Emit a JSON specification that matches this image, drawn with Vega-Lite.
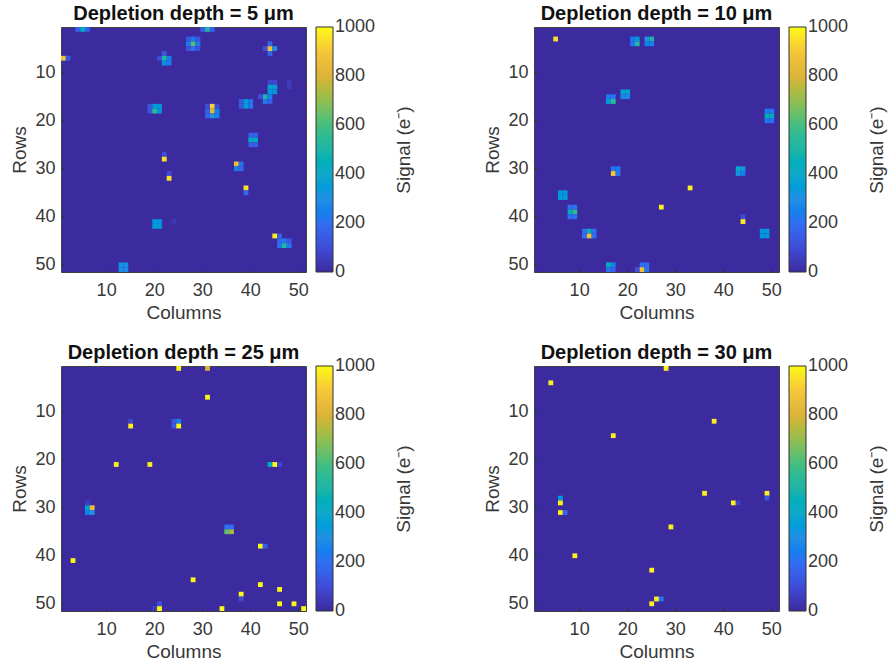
{
"$schema":"https://vega.github.io/schema/vega-lite/v6.json",
"background":"white",
"padding":{"left":10,"top":3,"right":0,"bottom":0},
"config":{
 "font":"Liberation Sans",
 "view":{"fill":"#3B2B9E","stroke":"#404040","strokeWidth":1},
 "title":{"fontSize":20,"fontWeight":"bold","color":"#111111","offset":3,"anchor":"middle"},
 "axis":{"grid":false,"domain":false,"tickSize":-3,"tickColor":"#303030","labelFontSize":18,"labelColor":"#383838","titleFontSize":19,"titleFontWeight":"normal","titleColor":"#383838","labelAngle":0},
 "axisX":{"labelPadding":12,"titlePadding":4},
 "axisY":{"labelPadding":9,"titlePadding":5},
 "legend":{"gradientLength":245,"gradientThickness":17,"offset":10,"labelFontSize":18,"labelColor":"#383838","labelOffset":9,"titleFontSize":19,"titleFontWeight":"normal","titleColor":"#383838","gradientStrokeColor":"#303030","gradientStrokeWidth":1,"titleOrient":"right","titlePadding":39}
},
"datasets":{
"p1":[{"c":4,"r":1,"v":150},{"c":5,"r":1,"v":420},{"c":6,"r":1,"v":150},{"c":30,"r":1,"v":150},{"c":31,"r":1,"v":500},{"c":32,"r":1,"v":150},
{"c":27,"r":3,"v":130},{"c":28,"r":3,"v":230},{"c":29,"r":3,"v":130},{"c":27,"r":4,"v":230},{"c":28,"r":4,"v":620},{"c":29,"r":4,"v":230},{"c":27,"r":5,"v":120},{"c":28,"r":5,"v":200},{"c":29,"r":5,"v":120},
{"c":44,"r":4,"v":170},{"c":43,"r":5,"v":110},{"c":44,"r":5,"v":860},{"c":45,"r":5,"v":300},{"c":44,"r":6,"v":170},
{"c":1,"r":7,"v":880},{"c":2,"r":7,"v":130},
{"c":22,"r":6,"v":130},{"c":21,"r":7,"v":100},{"c":22,"r":7,"v":500},{"c":23,"r":7,"v":260},{"c":22,"r":8,"v":330},{"c":23,"r":8,"v":220},
{"c":44,"r":12,"v":80},{"c":45,"r":12,"v":80},{"c":44,"r":13,"v":380},{"c":45,"r":13,"v":380},{"c":44,"r":14,"v":330},{"c":45,"r":14,"v":330},{"c":48,"r":12,"v":50},{"c":48,"r":13,"v":50},
{"c":43,"r":15,"v":520},{"c":44,"r":15,"v":250},{"c":43,"r":16,"v":240},{"c":44,"r":16,"v":150},{"c":42,"r":15,"v":100},
{"c":19,"r":17,"v":130},{"c":20,"r":17,"v":350},{"c":21,"r":17,"v":340},{"c":19,"r":18,"v":130},{"c":20,"r":18,"v":550},{"c":21,"r":18,"v":320},
{"c":31,"r":17,"v":100},{"c":32,"r":17,"v":920},{"c":33,"r":17,"v":100},{"c":31,"r":18,"v":150},{"c":32,"r":18,"v":820},{"c":33,"r":18,"v":260},{"c":31,"r":19,"v":170},{"c":32,"r":19,"v":300},{"c":33,"r":19,"v":260},
{"c":38,"r":16,"v":130},{"c":39,"r":16,"v":360},{"c":40,"r":16,"v":220},{"c":38,"r":17,"v":130},{"c":39,"r":17,"v":360},{"c":40,"r":17,"v":220},
{"c":40,"r":23,"v":150},{"c":41,"r":23,"v":150},{"c":40,"r":24,"v":420},{"c":41,"r":24,"v":420},{"c":40,"r":25,"v":150},{"c":41,"r":25,"v":150},
{"c":22,"r":27,"v":100},{"c":22,"r":28,"v":950},{"c":23,"r":31,"v":100},{"c":23,"r":32,"v":950},
{"c":37,"r":29,"v":860},{"c":38,"r":29,"v":220},{"c":37,"r":30,"v":260},{"c":38,"r":30,"v":170},
{"c":39,"r":34,"v":950},{"c":39,"r":35,"v":170},
{"c":24,"r":41,"v":40},{"c":20,"r":41,"v":320},{"c":21,"r":41,"v":320},{"c":20,"r":42,"v":340},{"c":21,"r":42,"v":340},
{"c":45,"r":44,"v":980},{"c":46,"r":44,"v":160},{"c":46,"r":45,"v":180},{"c":47,"r":45,"v":220},{"c":48,"r":45,"v":120},{"c":46,"r":46,"v":220},{"c":47,"r":46,"v":520},{"c":48,"r":46,"v":220},
{"c":13,"r":50,"v":310},{"c":14,"r":50,"v":310},{"c":13,"r":51,"v":290},{"c":14,"r":51,"v":290}],
"p2":[{"c":5,"r":3,"v":950},
{"c":21,"r":3,"v":220},{"c":22,"r":3,"v":340},{"c":21,"r":4,"v":220},{"c":22,"r":4,"v":520},
{"c":24,"r":3,"v":300},{"c":25,"r":3,"v":500},{"c":24,"r":4,"v":260},{"c":25,"r":4,"v":260},
{"c":19,"r":14,"v":370},{"c":20,"r":14,"v":370},{"c":19,"r":15,"v":280},{"c":20,"r":15,"v":280},
{"c":16,"r":15,"v":220},{"c":17,"r":15,"v":220},{"c":16,"r":16,"v":350},{"c":17,"r":16,"v":560},
{"c":49,"r":18,"v":220},{"c":50,"r":18,"v":220},{"c":49,"r":19,"v":450},{"c":50,"r":19,"v":450},{"c":49,"r":20,"v":220},{"c":50,"r":20,"v":220},
{"c":17,"r":30,"v":230},{"c":18,"r":30,"v":220},{"c":17,"r":31,"v":900},{"c":18,"r":31,"v":220},
{"c":43,"r":30,"v":420},{"c":44,"r":30,"v":310},{"c":43,"r":31,"v":310},{"c":44,"r":31,"v":250},
{"c":33,"r":34,"v":980},{"c":27,"r":38,"v":980},{"c":44,"r":40,"v":100},{"c":44,"r":41,"v":980},
{"c":6,"r":35,"v":320},{"c":7,"r":35,"v":320},{"c":6,"r":36,"v":350},{"c":7,"r":36,"v":350},
{"c":8,"r":38,"v":200},{"c":9,"r":38,"v":200},{"c":8,"r":39,"v":450},{"c":9,"r":39,"v":560},{"c":8,"r":40,"v":200},{"c":9,"r":40,"v":200},
{"c":11,"r":43,"v":200},{"c":12,"r":43,"v":450},{"c":13,"r":43,"v":200},{"c":11,"r":44,"v":200},{"c":12,"r":44,"v":860},{"c":13,"r":44,"v":200},
{"c":48,"r":43,"v":330},{"c":49,"r":43,"v":330},{"c":48,"r":44,"v":330},{"c":49,"r":44,"v":330},
{"c":16,"r":50,"v":460},{"c":17,"r":50,"v":260},{"c":16,"r":51,"v":210},{"c":17,"r":51,"v":160},
{"c":23,"r":50,"v":200},{"c":24,"r":50,"v":200},{"c":22,"r":51,"v":120},{"c":23,"r":51,"v":860},{"c":24,"r":51,"v":220}],
"p3":[{"c":25,"r":1,"v":980},{"c":31,"r":1,"v":800},{"c":31,"r":7,"v":1000},{"c":15,"r":12,"v":80},{"c":15,"r":13,"v":980},
{"c":24,"r":12,"v":130},{"c":25,"r":12,"v":260},{"c":24,"r":13,"v":130},{"c":25,"r":13,"v":1000},
{"c":12,"r":21,"v":980},{"c":19,"r":21,"v":980},{"c":44,"r":21,"v":420},{"c":45,"r":21,"v":1000},{"c":46,"r":21,"v":80},
{"c":6,"r":29,"v":60},{"c":6,"r":30,"v":380},{"c":7,"r":30,"v":860},{"c":6,"r":31,"v":260},{"c":7,"r":31,"v":300},
{"c":35,"r":34,"v":200},{"c":36,"r":34,"v":200},{"c":35,"r":35,"v":640},{"c":36,"r":35,"v":720},
{"c":42,"r":38,"v":1000},{"c":43,"r":38,"v":150},{"c":3,"r":41,"v":1000},{"c":28,"r":45,"v":1000},{"c":42,"r":46,"v":1000},{"c":46,"r":47,"v":1000},{"c":38,"r":48,"v":1000},{"c":38,"r":49,"v":90},
{"c":46,"r":50,"v":1000},{"c":49,"r":50,"v":1000},{"c":51,"r":51,"v":1000},{"c":21,"r":50,"v":110},{"c":20,"r":51,"v":70},{"c":21,"r":51,"v":1000},{"c":34,"r":51,"v":1000}],
"p4":[{"c":28,"r":1,"v":980},{"c":4,"r":4,"v":980},{"c":38,"r":12,"v":980},{"c":17,"r":15,"v":980},{"c":36,"r":27,"v":980},{"c":49,"r":27,"v":980},{"c":49,"r":28,"v":130},
{"c":6,"r":28,"v":320},{"c":6,"r":29,"v":980},{"c":6,"r":31,"v":980},{"c":7,"r":31,"v":160},{"c":42,"r":29,"v":980},{"c":43,"r":29,"v":70},{"c":29,"r":34,"v":980},{"c":9,"r":40,"v":980},{"c":25,"r":43,"v":980},{"c":26,"r":49,"v":980},{"c":27,"r":49,"v":220},{"c":25,"r":50,"v":980}]
},
"vconcat":[
{"hconcat":[
{"title":"Depletion depth = 5 μm","width":245,"height":245,"data":{"name":"p1"},"mark":{"type":"rect"},
"encoding":{
"x":{"field":"c","type":"ordinal","title":"Columns","axis":{"values":[10,20,30,40,50]},"scale":{"round":false,"paddingInner":0,"paddingOuter":0,"domain":[1,2,3,4,5,6,7,8,9,10,11,12,13,14,15,16,17,18,19,20,21,22,23,24,25,26,27,28,29,30,31,32,33,34,35,36,37,38,39,40,41,42,43,44,45,46,47,48,49,50,51]}},
"y":{"field":"r","type":"ordinal","title":"Rows","axis":{"values":[10,20,30,40,50]},"scale":{"round":false,"paddingInner":0,"paddingOuter":0,"domain":[1,2,3,4,5,6,7,8,9,10,11,12,13,14,15,16,17,18,19,20,21,22,23,24,25,26,27,28,29,30,31,32,33,34,35,36,37,38,39,40,41,42,43,44,45,46,47,48,49,50,51]}},
"color":{"field":"v","type":"quantitative","scale":{"domain":[0,1000],"range":["#3B2B9E","#3F4CD8","#2F6FF2","#2290E4","#12A8CA","#1FB5A6","#45BE80","#92BE50","#DDB338","#F6C73A","#F9FB15"]},"legend":{"title":"Signal (e⁻)","format":"d","values":[0,200,400,600,800,1000],"encode":{"labels":{"update":{"baseline":{"value":"middle"}}},"title":{"update":{"angle":{"value":-90}}}}}}}},
{"title":"Depletion depth = 10 μm","width":245,"height":245,"data":{"name":"p2"},"mark":{"type":"rect"},
"encoding":{
"x":{"field":"c","type":"ordinal","title":"Columns","axis":{"values":[10,20,30,40,50]},"scale":{"round":false,"paddingInner":0,"paddingOuter":0,"domain":[1,2,3,4,5,6,7,8,9,10,11,12,13,14,15,16,17,18,19,20,21,22,23,24,25,26,27,28,29,30,31,32,33,34,35,36,37,38,39,40,41,42,43,44,45,46,47,48,49,50,51]}},
"y":{"field":"r","type":"ordinal","title":"Rows","axis":{"values":[10,20,30,40,50]},"scale":{"round":false,"paddingInner":0,"paddingOuter":0,"domain":[1,2,3,4,5,6,7,8,9,10,11,12,13,14,15,16,17,18,19,20,21,22,23,24,25,26,27,28,29,30,31,32,33,34,35,36,37,38,39,40,41,42,43,44,45,46,47,48,49,50,51]}},
"color":{"field":"v","type":"quantitative","scale":{"domain":[0,1000],"range":["#3B2B9E","#3F4CD8","#2F6FF2","#2290E4","#12A8CA","#1FB5A6","#45BE80","#92BE50","#DDB338","#F6C73A","#F9FB15"]},"legend":{"title":"Signal (e⁻)","format":"d","values":[0,200,400,600,800,1000],"encode":{"labels":{"update":{"baseline":{"value":"middle"}}},"title":{"update":{"angle":{"value":-90}}}}}}}}
],"spacing":68,"resolve":{"scale":{"color":"independent"}}},
{"hconcat":[
{"title":"Depletion depth = 25 μm","width":245,"height":245,"data":{"name":"p3"},"mark":{"type":"rect"},
"encoding":{
"x":{"field":"c","type":"ordinal","title":"Columns","axis":{"values":[10,20,30,40,50]},"scale":{"round":false,"paddingInner":0,"paddingOuter":0,"domain":[1,2,3,4,5,6,7,8,9,10,11,12,13,14,15,16,17,18,19,20,21,22,23,24,25,26,27,28,29,30,31,32,33,34,35,36,37,38,39,40,41,42,43,44,45,46,47,48,49,50,51]}},
"y":{"field":"r","type":"ordinal","title":"Rows","axis":{"values":[10,20,30,40,50]},"scale":{"round":false,"paddingInner":0,"paddingOuter":0,"domain":[1,2,3,4,5,6,7,8,9,10,11,12,13,14,15,16,17,18,19,20,21,22,23,24,25,26,27,28,29,30,31,32,33,34,35,36,37,38,39,40,41,42,43,44,45,46,47,48,49,50,51]}},
"color":{"field":"v","type":"quantitative","scale":{"domain":[0,1000],"range":["#3B2B9E","#3F4CD8","#2F6FF2","#2290E4","#12A8CA","#1FB5A6","#45BE80","#92BE50","#DDB338","#F6C73A","#F9FB15"]},"legend":{"title":"Signal (e⁻)","format":"d","values":[0,200,400,600,800,1000],"encode":{"labels":{"update":{"baseline":{"value":"middle"}}},"title":{"update":{"angle":{"value":-90}}}}}}}},
{"title":"Depletion depth = 30 μm","width":245,"height":245,"data":{"name":"p4"},"mark":{"type":"rect"},
"encoding":{
"x":{"field":"c","type":"ordinal","title":"Columns","axis":{"values":[10,20,30,40,50]},"scale":{"round":false,"paddingInner":0,"paddingOuter":0,"domain":[1,2,3,4,5,6,7,8,9,10,11,12,13,14,15,16,17,18,19,20,21,22,23,24,25,26,27,28,29,30,31,32,33,34,35,36,37,38,39,40,41,42,43,44,45,46,47,48,49,50,51]}},
"y":{"field":"r","type":"ordinal","title":"Rows","axis":{"values":[10,20,30,40,50]},"scale":{"round":false,"paddingInner":0,"paddingOuter":0,"domain":[1,2,3,4,5,6,7,8,9,10,11,12,13,14,15,16,17,18,19,20,21,22,23,24,25,26,27,28,29,30,31,32,33,34,35,36,37,38,39,40,41,42,43,44,45,46,47,48,49,50,51]}},
"color":{"field":"v","type":"quantitative","scale":{"domain":[0,1000],"range":["#3B2B9E","#3F4CD8","#2F6FF2","#2290E4","#12A8CA","#1FB5A6","#45BE80","#92BE50","#DDB338","#F6C73A","#F9FB15"]},"legend":{"title":"Signal (e⁻)","format":"d","values":[0,200,400,600,800,1000],"encode":{"labels":{"update":{"baseline":{"value":"middle"}}},"title":{"update":{"angle":{"value":-90}}}}}}}}
],"spacing":68,"resolve":{"scale":{"color":"independent"}}}
],
"spacing":19,
"resolve":{"scale":{"color":"independent"}}
}
